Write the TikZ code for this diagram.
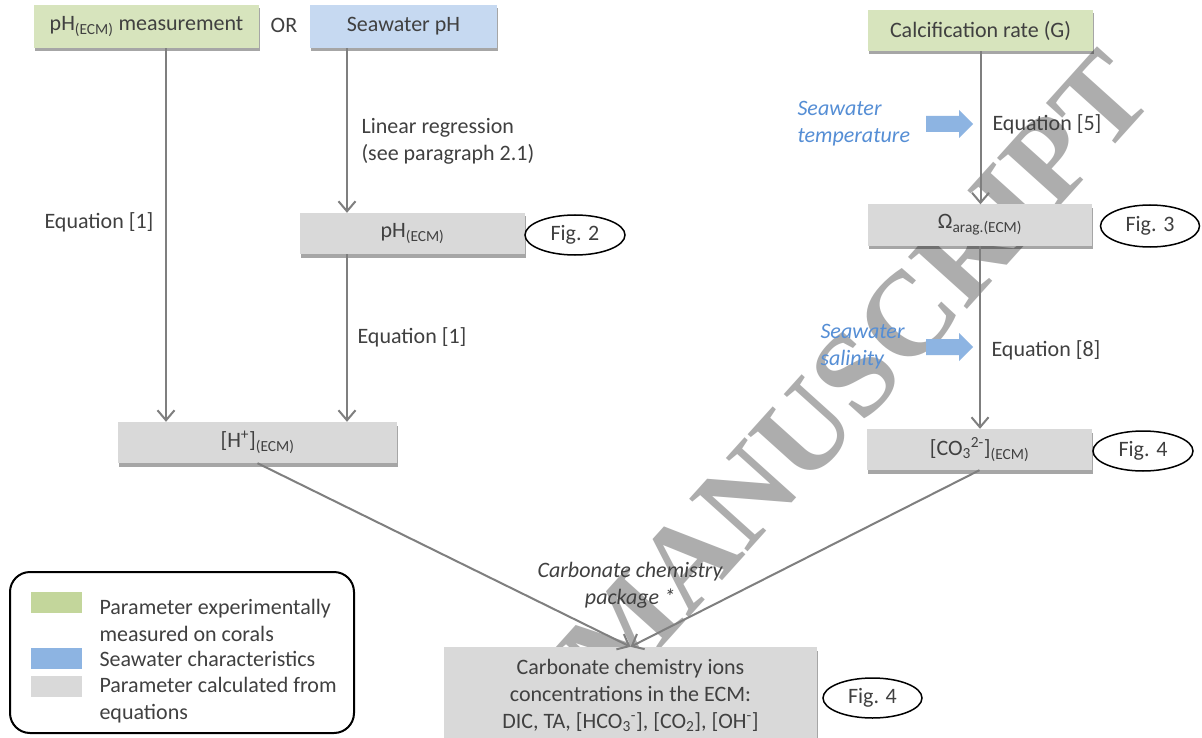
\documentclass[tikz,border=0pt]{standalone}
\usepackage{fontspec}
\setmainfont{Carlito}
\newfontfamily\wmfont{Liberation Serif}
\usetikzlibrary{arrows.meta,shapes.geometric,shadows}
\definecolor{txt}{HTML}{404040}
\definecolor{boxgreen}{HTML}{D7E4BD}
\definecolor{boxblue}{HTML}{C6D9F1}
\definecolor{boxgray}{HTML}{D9D9D9}
\definecolor{lgreen}{HTML}{C3D69B}
\definecolor{lblue}{HTML}{8DB4E2}
\definecolor{linegray}{HTML}{7F7F7F}
\definecolor{bluetext}{HTML}{558ED5}
\definecolor{arrowblue}{HTML}{8DB4E2}
\definecolor{wmgray}{HTML}{ADADAD}
\begin{document}
\begin{tikzpicture}[x=1pt,y=-1pt,
  every node/.style={font=\fontsize{22}{27}\selectfont, text=txt},
  boxbase/.style={rectangle, inner sep=0pt, minimum height=41pt,
    drop shadow={shadow xshift=0.5pt, shadow yshift=-3.5pt, opacity=0.35, fill=black}},
  greenbox/.style={boxbase, fill=boxgreen},
  bluebox/.style={boxbase, fill=boxblue},
  graybox/.style={boxbase, fill=boxgray},
  figlabel/.style={ellipse, draw=black, line width=1.5pt, fill=white, inner sep=0pt,
    minimum width=100pt, minimum height=40pt},
  arr/.style={draw=linegray, line width=2pt, -{Straight Barb[length=10pt,width=17pt,line width=2pt]}},
  bluelabel/.style={text=bluetext, font=\fontsize{22}{27}\selectfont\itshape, align=left, anchor=west},
  eqlabel/.style={anchor=west},
  blockarrow/.style={fill=arrowblue},
  swatch/.style={rectangle, inner sep=0pt, minimum width=51pt, minimum height=21pt},
  legtext/.style={anchor=west, align=left}
]
\useasboundingbox (0,0) rectangle (1202,738);
\fill[white] (0,0) rectangle (1202,738);

% watermark (behind the diagram)
\node[rotate=48, font=\fontsize{120}{120}\selectfont\wmfont\bfseries, text=wmgray] (wm) at (856,374) {MANUSCRIPT};

% top row
\node[greenbox, minimum width=225pt, minimum height=43pt] (g1) at (146.5,26.5) {pH\textsubscript{(ECM)} measurement};
\node (or) at (284,25) {OR};
\node[bluebox, minimum width=187pt, minimum height=43pt] (sw) at (403.5,26.5) {Seawater pH};
\node[greenbox, minimum width=225pt] (calc) at (980.5,30.5) {Calcification rate (G)};

% middle boxes
\node[graybox, minimum width=225pt] (phe) at (412.5,233.5) {pH\textsubscript{(ECM)}};
\node[figlabel] (fig2) at (575,235) {Fig. 2};
\node[graybox, minimum width=279pt] (hp) at (257.5,442.5) {[H\textsuperscript{+}]\textsubscript{(ECM)}};
\node[graybox, minimum width=224pt] (om) at (980,225) {Ω\textsubscript{arag.(ECM)}};
\node[figlabel, minimum width=99pt, minimum height=42pt] (fig3) at (1150,226) {Fig. 3};
\node[graybox, minimum width=225pt] (co3) at (979.5,449.5) {[CO\textsubscript{3}\textsuperscript{2-}]\textsubscript{(ECM)}};
\node[figlabel] (fig4a) at (1143,451) {Fig. 4};

% bottom box
\node[graybox, minimum width=373pt, minimum height=96pt, align=center] (ions) at (630.5,695)
  {Carbonate chemistry ions\\concentrations in the ECM:\\DIC, TA, [HCO\textsubscript{3}\textsuperscript{-}], [CO\textsubscript{2}], [OH\textsuperscript{-}]};
\node[figlabel, minimum width=99pt] (fig4b) at (872.5,698) {Fig. 4};

% connectors
\coordinate (l1) at ([xshift=19.5pt]g1.south);
\draw[arr] (l1) -- (l1 |- hp.north);
\coordinate (l2) at ([xshift=-56.5pt]sw.south);
\draw[arr] (l2) -- (l2 |- phe.north);
\draw[arr] (l2 |- phe.south) -- (l2 |- hp.north);
\draw[arr] (calc.south) -- (calc.south |- om.north);
\draw[arr] (om.south) -- (om.south |- co3.north);
\draw[arr] (hp.south) -- (ions.north);
\draw[arr] (co3.south) -- (ions.north);

% labels
\node[anchor=east] (eq1a) at (157,222) {Equation [1]};
\node[anchor=west, align=left] (linreg) at (358,141.5) {Linear regression\\(see paragraph 2.1)};
\node[eqlabel] (eq1b) at (354,337) {Equation [1]};
\node[bluelabel] (swt) at (794,124) {Seawater\\temperature};
\node[eqlabel] (eq5) at (989,124) {Equation [5]};
\node[bluelabel] (sws) at (817,347) {Seawater\\salinity};
\node[eqlabel] (eq8) at (988,350) {Equation [8]};
\node[font=\fontsize{22}{27}\selectfont\itshape, align=center] (pkg) at (630,585) {Carbonate chemistry\\package *};

% blue block arrows
\coordinate (ba1) at (926,124);
\fill[blockarrow] (ba1) ++(0,-8) -- ++(33,0) -- ++(0,-6) -- ++(14,14) -- ++(-14,14) -- ++(0,-6) -- ++(-33,0) -- cycle;
\coordinate (ba2) at (926,347);
\fill[blockarrow] (ba2) ++(0,-8) -- ++(33,0) -- ++(0,-6) -- ++(14,14) -- ++(-14,14) -- ++(0,-6) -- ++(-33,0) -- cycle;

% legend
\draw[black, line width=2pt, rounded corners=20pt] (10,572) rectangle (354,733);
\node[swatch, fill=lgreen] (sg) at (56.5,602.5) {};
\node[swatch, fill=lblue] (sb) at (56.5,658) {};
\node[swatch, fill=boxgray] (sgr) at (56.5,686.5) {};
\node[legtext] (t1) at (96,620) {Parameter experimentally\\measured on corals};
\node[legtext] (t2) at (96,659) {Seawater characteristics};
\node[legtext] (t3) at (96,700) {Parameter calculated from\\equations};
\end{tikzpicture}
\end{document}
